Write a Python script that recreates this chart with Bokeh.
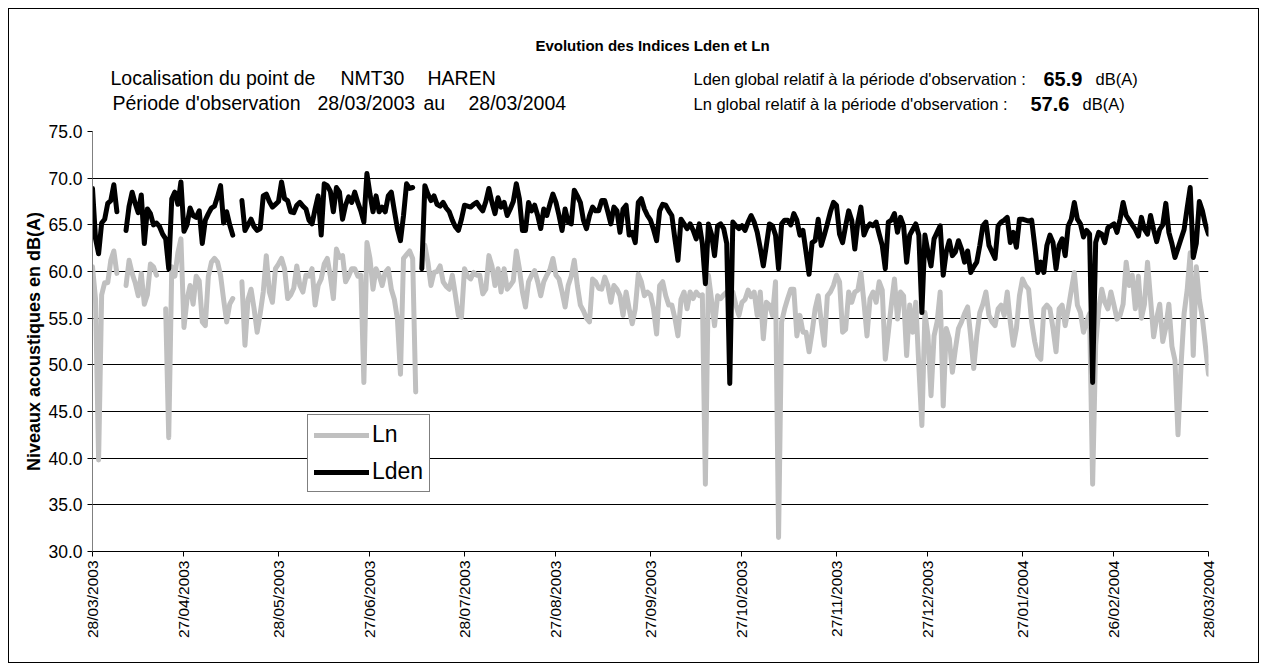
import numpy as np
import pandas as pd
from datetime import datetime
from bokeh.plotting import figure
from bokeh.layouts import column
from bokeh.models import (FixedTicker, Legend, LegendItem, Range1d,
                          NumeralTickFormatter, ColumnDataSource)
from bokeh.core.properties import value
from bokeh.embed import file_html
from bokeh.resources import INLINE

nan = float("nan")

start_date = "2003-03-28"
end_date = "2004-03-28"

tick_labels = ["28/03/2003", "27/04/2003", "28/05/2003", "27/06/2003", "28/07/2003",
               "27/08/2003", "27/09/2003", "27/10/2003", "27/11/2003", "27/12/2003",
               "27/01/2004", "26/02/2004", "28/03/2004"]

y_ticks = [30, 35, 40, 45, 50, 55, 60, 65, 70, 75]

lden = [
    68.9, 63.5, 61.9, 65.2, 65.6, 67.3, 67.6, 69.3, 66.4, nan,
    nan, 64.4, 67.0, 68.5, 67.3, 66.3, 68.2, 63.0, 66.7, 66.2,
    65.0, 65.2, 64.8, 64.0, 63.5, 60.3, 67.8, 68.5, 67.2, 69.6,
    64.3, 65.0, 66.8, 66.0, 65.8, 66.5, 63.0, 65.5, 66.2, 66.8,
    67.0, 68.0, 69.2, 65.2, 66.4, 65.0, 63.9, nan, nan, 67.6,
    64.4, 65.0, 65.6, 64.8, 64.4, 64.6, 68.1, 68.3, 67.5, 66.9,
    67.2, 67.5, 69.6, 67.8, 67.6, 66.4, 66.3, 67.1, 67.4, 67.0,
    66.7, 65.5, 65.1, 66.7, 68.1, 63.9, 69.4, 69.2, 68.6, 66.4,
    69.0, 68.5, 65.6, 67.1, 68.0, 67.4, 68.5, 67.4, 66.5, 65.3,
    70.5, 68.3, 66.4, 68.1, 66.4, 66.9, 66.4, 68.1, 68.5, 66.5,
    64.6, 63.3, 66.0, 69.4, 68.9, 69.0, nan, nan, 60.3, 69.2,
    68.3, 67.6, 68.1, 67.2, 67.0, 67.4, 66.8, 66.4, 65.5, 64.8,
    64.4, 65.6, 67.1, 67.0, 66.9, 67.2, 67.4, 66.9, 66.5, 67.5,
    68.9, 67.4, 66.2, 67.9, 66.9, 67.4, 66.0, 66.7, 67.5, 69.4,
    67.8, 64.4, 64.4, 67.4, 66.5, 67.1, 66.0, 64.6, 66.7, 66.0,
    67.2, 68.3, 67.4, 66.0, 64.4, 66.7, 65.3, 65.1, 68.7, 68.1,
    67.4, 65.5, 64.6, 66.0, 66.9, 66.5, 66.5, 67.6, 67.6, 66.4,
    65.1, 66.9, 66.5, 64.2, 66.7, 67.1, 63.9, 64.2, 63.1, 67.4,
    67.8, 66.7, 66.0, 65.5, 64.5, 63.3, 66.5, 67.2, 67.1, 66.5,
    66.0, 63.5, 61.2, 65.6, 65.1, 64.6, 65.1, 64.4, 63.5, 65.1,
    63.0, 58.7, 65.1, 64.0, 61.7, 64.9, 65.1, 64.6, 63.0, 48.0,
    65.3, 64.9, 64.6, 64.9, 64.4, 65.3, 66.0, 65.3, 64.2, 62.5,
    60.6, 62.8, 65.1, 64.9, 63.9, 60.3, 65.1, 65.5, 65.5, 65.0,
    66.2, 65.5, 63.9, 64.4, 62.1, 59.7, 63.1, 63.3, 65.6, 62.8,
    63.9, 65.1, 66.4, 67.4, 67.1, 64.0, 63.1, 64.9, 66.5, 65.5,
    62.4, 65.3, 66.9, 63.9, 64.7, 65.1, 64.9, 65.3, 64.0, 62.8,
    60.3, 65.3, 65.5, 66.2, 64.2, 65.8, 64.9, 61.0, 63.9, 64.5,
    65.1, 63.9, 55.6, 63.9, 62.1, 60.6, 63.5, 64.2, 64.9, 59.6,
    62.1, 63.3, 61.7, 62.1, 63.3, 62.4, 61.0, 62.2, 59.9, 60.5,
    61.0, 62.8, 64.9, 65.3, 62.8, 62.1, 61.4, 64.9, 65.3, 65.5,
    65.8, 63.1, 64.2, 62.6, 65.6, 65.6, 65.5, 65.4, 65.5, 62.8,
    59.9, 61.0, 59.9, 62.8, 63.9, 63.1, 60.3, 62.8, 63.5, 61.7,
    64.9, 65.6, 67.4, 65.6, 65.1, 63.7, 64.4, 64.0, 48.1, 63.1,
    64.2, 64.0, 63.1, 64.7, 64.9, 65.1, 64.2, 65.6, 67.4, 66.0,
    65.5, 65.0, 64.5, 63.8, 65.8, 64.5, 64.0, 66.0, 64.5, 63.2,
    64.5, 65.0, 67.3, 64.2, 63.0, 61.5, 62.5, 63.5, 64.5, 66.8,
    69.0, 61.5, 63.0, 67.5, 66.5, 65.0, 64.0,
]

ln = [
    60.5, 57.0, 39.8, 57.5, 58.8, 58.8, 61.2, 62.2, 59.8, nan,
    nan, 58.5, 61.2, 59.8, 58.8, 57.4, 59.8, 56.5, 57.5, 60.8,
    60.5, 59.6, nan, nan, 56.0, 42.2, 60.5, 59.5, 62.0, 63.5,
    54.0, 57.0, 58.5, 56.5, 59.5, 59.0, 54.6, 54.2, 59.5, 61.0,
    61.4, 61.0, 59.6, 57.0, 54.6, 56.5, 57.1, nan, nan, 58.9,
    52.1, 57.0, 58.1, 56.0, 53.5, 55.5, 57.8, 61.7, 57.8, 56.7,
    60.3, 60.8, 61.4, 60.3, 57.1, 57.5, 58.2, 60.6, 58.5, 57.8,
    59.6, 59.5, 60.3, 56.4, 58.5, 59.2, 60.8, 61.4, 59.5, 57.1,
    62.4, 61.5, 61.7, 58.9, 59.5, 60.3, 60.3, 59.5, 59.6, 48.1,
    63.1, 61.4, 58.1, 60.3, 59.6, 58.5, 59.9, 60.3, 58.1, 57.0,
    54.9, 49.0, 61.4, 61.8, 62.2, 61.4, 47.1, nan, nan, 62.8,
    61.0, 58.5, 59.9, 60.0, 60.6, 58.9, 58.4, 58.1, 59.6, 57.5,
    55.3, 55.1, 60.3, 59.5, 59.2, 59.9, 59.6, 59.6, 57.6, 58.1,
    61.7, 60.6, 58.5, 60.3, 57.8, 60.3, 58.1, 58.5, 59.0, 62.2,
    60.3, 57.8, 56.2, 58.9, 59.6, 60.1, 58.9, 57.4, 58.9, 59.6,
    60.2, 61.4, 59.6, 59.2, 57.8, 56.2, 58.5, 59.5, 61.2, 58.5,
    56.4, 55.8, 55.0, 54.6, 59.2, 58.9, 58.2, 58.1, 59.4, 58.5,
    56.7, 58.5, 58.1, 57.4, 55.3, 57.8, 56.0, 54.4, 56.0, 59.7,
    58.9, 57.4, 57.8, 57.5, 56.0, 53.3, 58.5, 58.9, 57.4, 56.4,
    56.4, 55.0, 53.1, 57.0, 57.8, 56.0, 57.8, 57.1, 57.8, 57.4,
    57.5, 37.2, 59.6, 57.0, 54.2, 57.4, 57.1, 57.5, 57.8, 57.6,
    57.8, 56.4, 55.3, 56.7, 57.0, 58.0, 57.3, 57.8, 55.3, 57.8,
    52.8, 56.7, 56.4, 55.3, 58.9, 31.5, 54.6, 56.0, 57.1, 58.1,
    58.1, 53.1, 55.3, 53.5, 53.5, 51.4, 53.5, 56.0, 57.4, 54.6,
    52.1, 57.4, 57.8, 58.5, 59.6, 58.9, 53.5, 53.8, 57.8, 56.7,
    57.8, 58.0, 59.9, 56.7, 53.1, 57.1, 57.8, 56.7, 58.9, 58.0,
    50.6, 53.5, 56.5, 59.2, 54.9, 57.8, 57.4, 51.0, 56.4, 53.5,
    56.7, 49.9, 43.5, 55.6, 53.1, 46.7, 53.1, 54.6, 57.8, 45.6,
    53.9, 52.8, 49.2, 51.7, 53.9, 54.6, 55.5, 56.2, 53.1, 49.6,
    53.1, 55.6, 56.5, 57.8, 55.3, 54.6, 54.2, 56.0, 56.4, 55.3,
    57.8, 54.6, 52.1, 53.9, 57.4, 59.2, 58.5, 58.1, 54.6, 52.5,
    51.0, 50.6, 56.0, 56.4, 56.0, 53.9, 51.4, 56.0, 56.4, 54.2,
    56.0, 58.0, 59.9, 56.4, 55.6, 53.5, 54.6, 55.5, 37.2, 52.1,
    56.0, 58.1, 56.7, 56.0, 57.8, 56.4, 54.9, 55.3, 56.5, 61.0,
    58.5, 59.6, 56.0, 59.5, 55.0, 56.5, 61.0, 57.0, 53.0, 55.0,
    56.5, 52.5, 54.0, 56.5, 52.0, 50.5, 42.5, 50.0, 55.5, 58.0,
    62.0, 51.0, 60.5, 57.0, 55.0, 52.0, 49.0,
]

dates = pd.date_range(start_date, end_date, freq="D")
xs = np.arange(len(dates))
tick_pos = [int(dates.get_loc(pd.Timestamp(datetime.strptime(t, "%d/%m/%Y")))) for t in tick_labels]

src = ColumnDataSource(dict(x=xs, lden=lden, ln=ln))

FONT = "Liberation Sans"
W = 1249
HEAD_H = 112
BL, BR = 83, 50          # left/right borders of the chart frame
OX, OY = 9, 9            # page position of the canvas origin
FRAME_L = OX + BL        # page x of the (aligned) frames
FRAME_R = OX + W - BR

# ---------------- header (texts) ----------------
# the column aligns the frames of both figures, so the header frame spans
# the same horizontal band as the chart frame; map it to page pixels.
head = figure(width=W, height=HEAD_H, output_backend="svg", toolbar_location=None,
              x_range=Range1d(FRAME_L, FRAME_R), y_range=Range1d(HEAD_H + OY, OY),
              x_axis_location=None, y_axis_location=None,
              min_border_left=BL, min_border_right=BR,
              min_border_top=0, min_border_bottom=0,
              background_fill_color="white", border_fill_color="white")
head.grid.visible = False
head.outline_line_color = None


def htext(px, py, txt, size, bold=False, align="left"):
    head.text(x=[px], y=[py], text=[txt], text_font=value(FONT),
              text_font_size=size, text_font_style="bold" if bold else "normal",
              text_align=align, text_baseline="middle", text_color="black")


htext(652, 45, "Evolution des Indices Lden et Ln", "15px", bold=True, align="center")
htext(110, 77, "Localisation du point de", "19.5px")
htext(340, 77, "NMT30", "19.5px")
htext(427, 77, "HAREN", "19.5px")
htext(112, 102, "Période d'observation", "19.5px")
htext(317, 102, "28/03/2003", "19.5px")
htext(423, 102, "au", "19.5px")
htext(468, 102, "28/03/2004", "19.5px")
htext(693, 78, "Lden global  relatif à la période d'observation :", "16.5px")
htext(1043, 78, "65.9", "20px", bold=True)
htext(1095, 78, "dB(A)", "16.5px")
htext(693, 103, "Ln global  relatif à la période d'observation :", "16.5px")
htext(1030, 103, "57.6", "20px", bold=True)
htext(1082, 103, "dB(A)", "16.5px")

# ---------------- main chart ----------------
p = figure(width=W, height=662 - (OY + HEAD_H), output_backend="svg", toolbar_location=None,
           x_range=Range1d(0, len(dates) - 1), y_range=Range1d(30, 75),
           min_border_left=BL, min_border_right=BR, min_border_top=10,
           min_border_bottom=111, background_fill_color="white",
           border_fill_color="white")
p.outline_line_color = None

r_ln = p.line("x", "ln", source=src, line_color="#C0C0C0", line_width=5,
              line_join="round", line_cap="round")
r_lden = p.line("x", "lden", source=src, line_color="#000000", line_width=5,
                line_join="round", line_cap="round")

p.xaxis.ticker = FixedTicker(ticks=tick_pos)
p.xaxis.major_label_overrides = {pos: lab for pos, lab in zip(tick_pos, tick_labels)}
p.xaxis.major_label_orientation = np.pi / 2
p.xaxis.minor_tick_line_color = None
p.xaxis.major_tick_in = 0
p.xaxis.major_tick_out = 5
p.xaxis.axis_line_color = "black"
p.xaxis.major_label_text_font = FONT
p.xaxis.major_label_text_font_size = "15.5px"
p.xaxis.major_label_text_color = "black"
p.xaxis.major_label_standoff = 4

p.yaxis.ticker = FixedTicker(ticks=y_ticks)
p.yaxis.formatter = NumeralTickFormatter(format="0.0")
p.yaxis.minor_tick_line_color = None
p.yaxis.major_tick_in = 0
p.yaxis.major_tick_out = 5
p.yaxis.axis_line_color = "#808080"
p.yaxis.major_label_text_font = FONT
p.yaxis.major_label_text_font_size = "17.5px"
p.yaxis.major_label_text_color = "black"
p.yaxis.major_label_standoff = 5
p.yaxis.axis_label = "Niveaux acoustiques en dB(A)"
p.yaxis.axis_label_text_font = FONT
p.yaxis.axis_label_text_font_style = "bold"
p.yaxis.axis_label_text_font_size = "18px"
p.yaxis.axis_label_text_color = "black"
p.yaxis.axis_label_standoff = 1

p.xgrid.grid_line_color = None
p.ygrid.ticker = FixedTicker(ticks=y_ticks)
p.ygrid.grid_line_color = "#000000"
p.ygrid.grid_line_width = 1

legend = Legend(items=[LegendItem(label="Ln", renderers=[r_ln]),
                       LegendItem(label="Lden", renderers=[r_lden])],
                location=(215, 59), orientation="vertical",
                label_text_font=FONT, label_text_font_size="23px",
                label_text_color="black", glyph_width=55, glyph_height=24,
                label_height=24, spacing=10, padding=6, margin=0,
                label_standoff=3, border_line_color="black", border_line_width=1,
                background_fill_color="white", background_fill_alpha=1)
p.add_layout(legend, "center")

page = column(head, p, spacing=0,
              styles={"margin": "8px", "border": "1px solid black"})

open("out.html", "w").write(file_html(page, INLINE))
